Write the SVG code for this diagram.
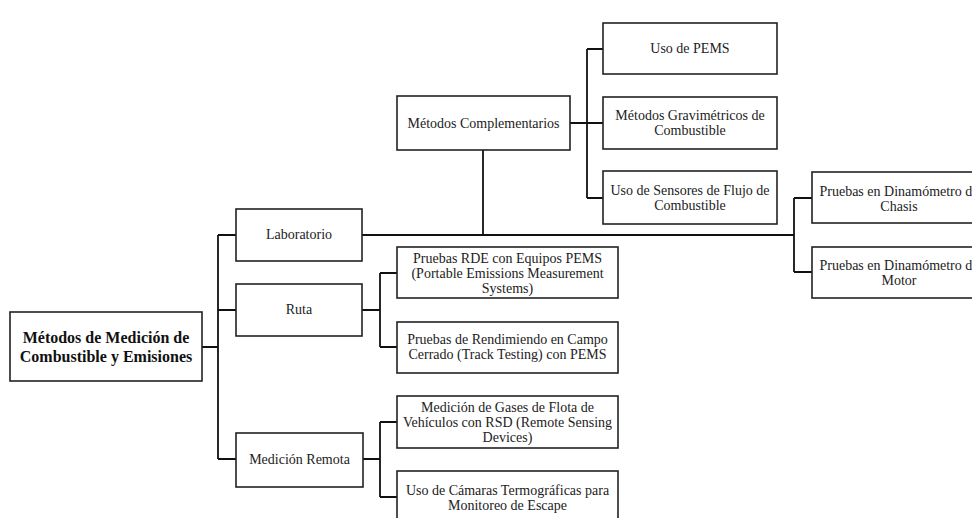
<svg xmlns="http://www.w3.org/2000/svg" width="972" height="518" viewBox="0 0 972 518">
  <style>
    .box { fill: #ffffff; stroke: #222222; stroke-width: 1.6; }
    .lbl { font-family: "Liberation Serif", "Times New Roman", serif; font-size: 14px; fill: #222222; text-anchor: middle; }
    .root { font-size: 16px; font-weight: bold; fill: #111111; }
    .edge { fill: none; stroke: #111111; stroke-width: 1.8; }
  </style>
  <rect width="972" height="518" fill="#ffffff"/>

  <!-- connectors -->
  <g id="connectors">
    <!-- root to level 1 -->
    <path class="edge" d="M202,347 H218 M218,235 V459 M218,235 H236 M218,310 H236 M218,459 H236"/>
    <!-- Laboratorio trunk -->
    <path class="edge" d="M362,235 H794 M483,150 V235"/>
    <!-- Métodos Complementarios children -->
    <path class="edge" d="M570,123 H603 M587,49 V198 M587,49 H603 M587,198 H603"/>
    <!-- dinamómetro branch -->
    <path class="edge" d="M794,198 V272 M794,198 H812 M794,272 H812"/>
    <!-- Ruta children -->
    <path class="edge" d="M362,310 H380 M380,273 V347 M380,273 H397 M380,347 H397"/>
    <!-- Medición Remota children -->
    <path class="edge" d="M363,459 H380 M380,422 V497 M380,422 H397 M380,497 H397"/>
  </g>

  <g id="root">
    <rect class="box" x="10" y="312" width="192" height="69"/>
    <text class="lbl root" x="106" y="343">Métodos de Medición de</text>
    <text class="lbl root" x="106" y="362">Combustible y Emisiones</text>
  </g>

  <g id="laboratorio">
    <rect class="box" x="236" y="209" width="126" height="52"/>
    <text class="lbl" x="299" y="239">Laboratorio</text>
  </g>

  <g id="ruta">
    <rect class="box" x="236" y="284" width="126" height="52"/>
    <text class="lbl" x="299" y="314">Ruta</text>
  </g>

  <g id="medicion-remota">
    <rect class="box" x="236" y="433" width="127" height="54"/>
    <text class="lbl" x="299.5" y="464">Medición Remota</text>
  </g>

  <g id="metodos-complementarios">
    <rect class="box" x="397" y="96" width="173" height="54"/>
    <text class="lbl" x="483.5" y="128">Métodos Complementarios</text>
  </g>

  <g id="uso-pems">
    <rect class="box" x="603" y="23" width="174" height="51"/>
    <text class="lbl" x="690" y="53">Uso de PEMS</text>
  </g>

  <g id="gravimetricos">
    <rect class="box" x="603" y="97" width="174" height="52"/>
    <text class="lbl" x="690" y="120">Métodos Gravimétricos de</text>
    <text class="lbl" x="690" y="135">Combustible</text>
  </g>

  <g id="sensores-flujo">
    <rect class="box" x="603" y="171" width="174" height="53"/>
    <text class="lbl" x="690" y="195">Uso de Sensores de Flujo de</text>
    <text class="lbl" x="690" y="210">Combustible</text>
  </g>

  <!-- these two boxes run past the right edge of the canvas -->
  <g id="dinamometro-chasis">
    <rect class="box" x="812" y="172" width="174" height="51"/>
    <text class="lbl" x="899" y="196">Pruebas en Dinamómetro de</text>
    <text class="lbl" x="899" y="211">Chasis</text>
  </g>

  <g id="dinamometro-motor">
    <rect class="box" x="812" y="247" width="174" height="51"/>
    <text class="lbl" x="899" y="270">Pruebas en Dinamómetro de</text>
    <text class="lbl" x="899" y="285">Motor</text>
  </g>

  <g id="rde-pems">
    <rect class="box" x="397" y="247" width="221" height="51"/>
    <text class="lbl" x="507.5" y="263">Pruebas RDE con Equipos PEMS</text>
    <text class="lbl" x="507.5" y="278">(Portable Emissions Measurement</text>
    <text class="lbl" x="507.5" y="293">Systems)</text>
  </g>

  <g id="track-testing">
    <rect class="box" x="397" y="322" width="221" height="51"/>
    <text class="lbl" x="507.5" y="344">Pruebas de Rendimiendo en Campo</text>
    <text class="lbl" x="507.5" y="359">Cerrado (Track Testing) con PEMS</text>
  </g>

  <g id="rsd-flota">
    <rect class="box" x="397" y="396" width="221" height="52"/>
    <text class="lbl" x="507.5" y="412">Medición de Gases de Flota de</text>
    <text class="lbl" x="507.5" y="427">Vehículos con RSD (Remote Sensing</text>
    <text class="lbl" x="507.5" y="442">Devices)</text>
  </g>

  <g id="camaras-termograficas">
    <rect class="box" x="397" y="471" width="221" height="60"/>
    <text class="lbl" x="507.5" y="495">Uso de Cámaras Termográficas para</text>
    <text class="lbl" x="507.5" y="510">Monitoreo de Escape</text>
  </g>
</svg>
